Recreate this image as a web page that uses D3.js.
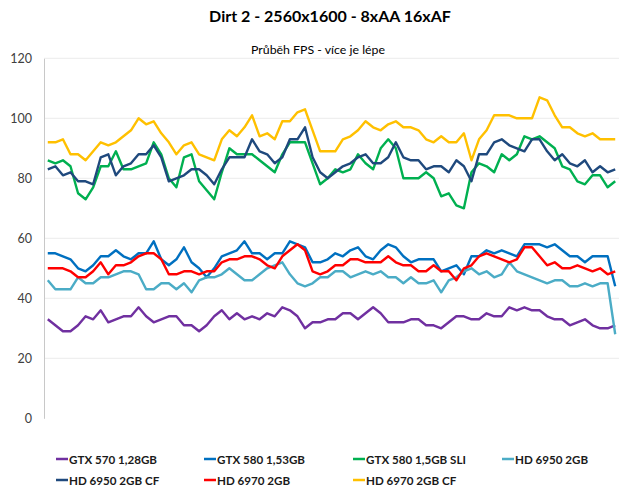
<!DOCTYPE html>
<html><head><meta charset="utf-8">
<script src="https://cdn.jsdelivr.net/npm/d3@7"></script>
<style>body{margin:0;background:#fff;} svg{display:block;font-family:Lato,"Open Sans",sans-serif;}</style>
</head><body>
<svg id="c" width="620" height="489"></svg>
<script>
const title = "Dirt 2 - 2560x1600 - 8xAA 16xAF";
const subtitle = "Průběh FPS - více je lépe";
const yTicks = [0, 20, 40, 60, 80, 100, 120];
const seriesNames = ["GTX 570 1,28GB","GTX 580 1,53GB","GTX 580 1,5GB SLI","HD 6950 2GB","HD 6950 2GB CF","HD 6970 2GB","HD 6970 2GB CF"];
const seriesColors = ["#7030A0","#0070C0","#00B050","#4BACC6","#1F497D","#FF0000","#FFC000"];
const gtx570 = [33,31,29,29,31,34,33,36,32,33,34,34,37,34,32,33,34,34,31,31,29,31,34,36,33,35,
  33,34,33,35,34,37,36,34,30,32,32,33,33,35,35,33,35,37,35,32,32,32,33,33,31,
  31,30,32,34,34,33,33,35,34,34,37,36,37,36,36,34,33,33,31,32,33,31,30,30,31];
const gtx580 = [55,55,54,53,50,49,51,54,54,56,54,53,55,55,59,53,51,53,57,52,50,47,50,54,55,56,
  59,55,55,53,55,55,59,58,57,52,52,53,55,54,56,57,54,53,56,58,57,54,52,53,53,
  53,49,50,51,48,54,54,56,55,56,55,54,58,58,58,57,58,56,54,54,52,54,54,54,44];
const gtx580sli = [86,85,86,84,75,73,77,84,84,89,83,83,84,85,92,88,80,77,87,88,79,76,73,82,90,88,
  88,88,86,84,82,88,92,92,92,85,78,80,83,82,83,88,85,83,90,93,90,80,80,80,82,
  80,74,75,71,70,82,85,84,82,88,86,88,94,93,94,92,90,84,83,79,78,81,81,77,79];
const hd6950 = [46,43,43,43,47,45,45,47,47,48,49,49,48,43,43,45,45,43,45,42,46,47,47,48,50,48,
  46,46,48,50,51,52,48,45,44,45,47,47,49,49,47,48,49,48,49,47,47,45,47,45,45,
  46,42,46,47,49,50,48,49,47,48,52,49,48,47,46,45,46,46,44,44,45,44,45,45,28];
const hd6950cf = [83,84,81,82,79,79,78,87,88,81,84,85,88,88,91,87,79,80,81,83,83,81,78,83,87,87,
  87,93,89,88,85,87,93,93,97,87,82,80,82,84,85,87,88,85,85,87,92,87,86,86,83,
  84,84,82,86,84,79,88,88,92,93,91,90,89,93,93,89,86,88,85,84,86,82,84,82,83];
const hd6970 = [50,50,50,49,47,47,49,52,48,51,51,52,54,55,55,53,48,48,49,49,48,49,49,52,53,53,
  54,54,53,51,50,54,56,58,56,49,48,49,51,51,53,53,52,52,52,54,52,51,51,49,49,
  51,49,49,46,50,51,54,55,54,53,52,53,57,57,54,51,52,50,50,51,50,49,50,48,49];
const hd6970cf = [92,92,93,88,88,86,89,92,91,92,94,96,100,98,99,95,92,88,91,92,88,87,86,93,96,94,
  97,101,94,95,93,99,99,102,103,96,89,89,89,93,94,96,99,97,96,98,99,97,97,96,93,
  92,94,92,92,95,86,93,96,101,101,101,100,100,100,107,106,101,97,97,95,94,95,93,93,93];
const seriesValues = [gtx570, gtx580, gtx580sli, hd6950, hd6950cf, hd6970, hd6970cf];
const categories = d3.range(1, gtx570.length + 1);

const svg = d3.select("#c");
const x = d3.scalePoint().domain(categories).range([44, 619]).padding(0.5);
const y = d3.scaleLinear().domain([0, 120]).range([418.3, 58.3]);

// scale a text's font size so its width matches a target width
function fit(sel, target) {
  const fs = +sel.attr("font-size");
  const w = sel.node().getComputedTextLength();
  if (w > 0) sel.attr("font-size", (fs * target / w).toFixed(2));
  return +sel.attr("font-size");
}

const t = svg.append("text").attr("x", 330).attr("y", 21.5).attr("text-anchor", "middle")
  .attr("font-size", 17).attr("font-weight", "bold").attr("fill", "#000").text(title);
fit(t, 242);
const st = svg.append("text").attr("x", 318).attr("y", 54).attr("text-anchor", "middle")
  .attr("font-size", 12).attr("fill", "#000").text(subtitle);
fit(st, 134);

// gridlines
svg.append("g").selectAll("line").data(yTicks.filter(d => d > 0)).join("line")
  .attr("x1", 44).attr("x2", 619).attr("y1", d => y(d)).attr("y2", d => y(d))
  .attr("stroke", "#ececec").attr("stroke-width", 1);

const yAxis = svg.append("g").attr("transform", "translate(44,0)")
  .call(d3.axisLeft(y).tickValues(yTicks).tickSize(0).tickPadding(12));
yAxis.select(".domain").attr("stroke", "#c8c8c8");
yAxis.selectAll("text").attr("font-size", 12.5).attr("fill", "#404040").attr("font-family", "Lato,'Open Sans',sans-serif");

const line = d3.line().x((d, i) => x(categories[i])).y(d => y(d));
svg.append("g").selectAll("path").data(seriesValues).join("path")
  .attr("d", d => line(d)).attr("fill", "none")
  .attr("stroke", (d, i) => seriesColors[i]).attr("stroke-width", 2.4)
  .attr("stroke-linejoin", "round");

// legend
const legX = [56, 204, 353, 502];
const leg = svg.append("g");
let legFont = 11;
seriesNames.forEach((n, i) => {
  const lx = legX[i % 4], ly = i < 4 ? 459 : 480;
  leg.append("line").attr("x1", lx).attr("x2", lx + 12).attr("y1", ly).attr("y2", ly)
    .attr("stroke", seriesColors[i]).attr("stroke-width", 2.5);
  const tx = leg.append("text").attr("x", lx + 13).attr("y", ly + 4.5).attr("font-size", legFont)
    .attr("font-weight", "bold").attr("fill", "#1a1a1a").text(n);
  if (i === 0) legFont = fit(tx, 88);
});
</script>
</body></html>
